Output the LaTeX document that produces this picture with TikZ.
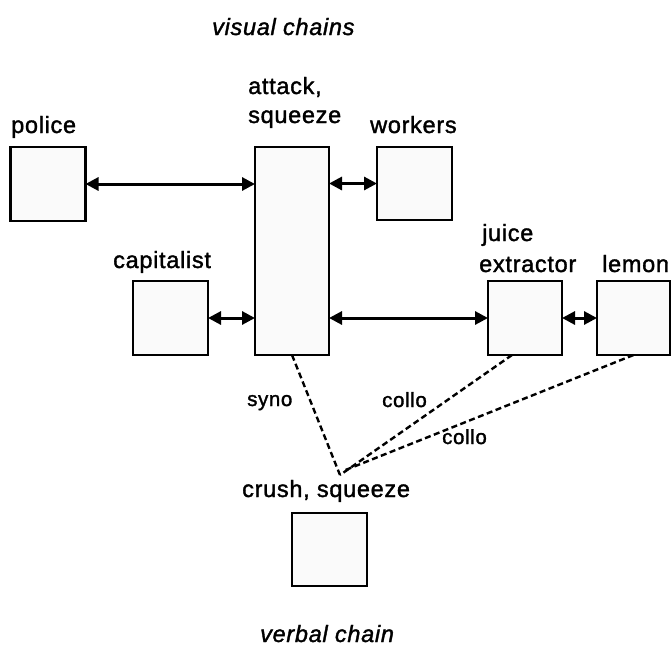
\documentclass[tikz,border=0pt]{standalone}
\usepackage{fontspec}
\setmainfont[LetterSpace=3,FakeBold=1.5]{Liberation Sans}
\usetikzlibrary{arrows.meta}
\begin{document}
\begin{tikzpicture}[x=1pt,y=-1pt,
  box/.style={draw, line width=2.2pt, fill=gray!4, inner sep=0pt, outer sep=0pt,
              minimum width=75pt, minimum height=74pt},
  link/.style={line width=3pt, {Triangle[length=13pt,width=13pt]}-{Triangle[length=13pt,width=13pt]}},
  rel/.style={line width=2.4pt, dash pattern=on 6pt off 3.5pt},
  lbl/.style={anchor=base west, inner sep=0pt, font=\fontsize{23.5}{26}\selectfont},
  small/.style={anchor=base west, inner sep=0pt, font=\fontsize{20.5}{24}\selectfont},
  title/.style={anchor=base west, inner sep=0pt, font=\fontsize{23.5}{26}\selectfont\itshape}]
\useasboundingbox[fill=white] (0,0) rectangle (671,646);

% boxes
\node[box] (police) at (48,184) {};
\node[box, minimum width=74pt, minimum height=208pt] (attack) at (292,251) {};
\node[box, minimum height=73pt] (workers) at (414.5,183.5) {};
\node[box] (capitalist) at (170.5,318) {};
\node[box, minimum width=74pt] (juice) at (525,318) {};
\node[box, minimum width=73pt] (lemon) at (633.5,318) {};
\node[box, minimum height=73pt] (crush) at (329.5,549.5) {};

% labels
\node[title] (tvisual) at (212,35) {visual chains};
\node[lbl] (tattack) at (248,94) {attack,};
\node[lbl] (tsqueeze) at (248,123) {squeeze};
\node[lbl] (tpolice) at (11,133) {police};
\node[lbl] (tworkers) at (370,133) {workers};
\node[lbl] (tcapitalist) at (113,268) {capitalist};
\node[lbl] (tjuice) at (482,241) {juice};
\node[lbl] (textractor) at (479,272) {extractor};
\node[lbl] (tlemon) at (602,272) {lemon};
\node[small] (tsyno) at (247,406) {syno};
\node[small] (tcolloa) at (382,407) {collo};
\node[small] (tcollob) at (442,444) {collo};
\node[lbl] (tcrush) at (242,497) {crush, squeeze};
\node[title] (tverbal) at (260,642) {verbal chain};

% arrows
\draw[link] (police.east) -- (police.east -| attack.west);
\draw[link] (workers.west -| attack.east) -- (workers.west);
\draw[link] (capitalist.east) -- (capitalist.east -| attack.west);
\draw[link] (juice.west -| attack.east) -- (juice.west);
\draw[link] (juice.east) -- (lemon.west);

% dashed relations
\coordinate (meet) at (340,475);
\coordinate (meetb) at (343,471);
\coordinate (juicefoot) at ([xshift=-13pt]juice.south);
\draw[rel] (attack.south) -- (meet);
\draw[rel] (juicefoot) -- (meet);
\draw[rel] (lemon.south) -- (meetb);
\end{tikzpicture}
\end{document}
